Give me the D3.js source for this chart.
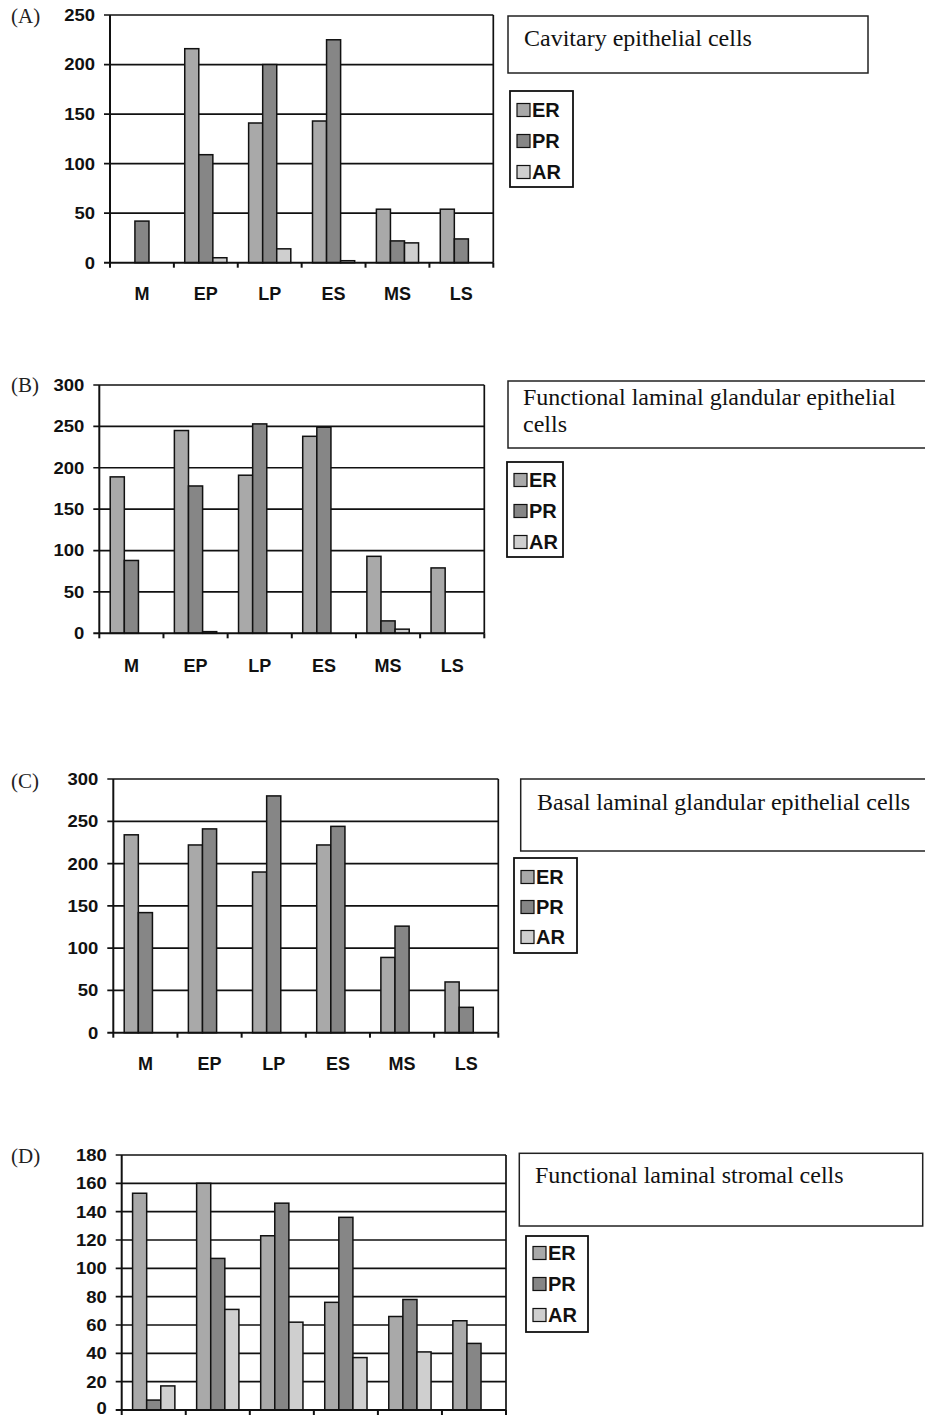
<!DOCTYPE html>
<html><head><meta charset="utf-8">
<script src="https://cdn.jsdelivr.net/npm/d3@7/dist/d3.min.js"></script>
<style>
body{margin:0;background:#fff;}
svg{display:block;}
</style></head>
<body>
<svg id="chart" width="925" height="1415"></svg>
<script>
// ---- data ----
const categories = ["M","EP","LP","ES","MS","LS"];
const seriesNames = ["ER","PR","AR"];
const seriesColors = ["#a9a9a9","#868686","#cfcfcf"];

const titleA = ["Cavitary epithelial cells"];
const ticksA = [0,50,100,150,200,250];
const A_ER = [0,216,141,143,54,54];
const A_PR = [42,109,200,225,22,24];
const A_AR = [0,5,14,2,20,0];

const titleB = ["Functional laminal glandular epithelial","cells"];
const ticksB = [0,50,100,150,200,250,300];
const B_ER = [189,245,191,238,93,79];
const B_PR = [88,178,253,249,15,0];
const B_AR = [0,2,0,0,5,0];

const titleC = ["Basal laminal glandular epithelial cells"];
const ticksC = [0,50,100,150,200,250,300];
const C_ER = [234,222,190,222,89,60];
const C_PR = [142,241,280,244,126,30];
const C_AR = [0,0,0,0,0,0];

const titleD = ["Functional laminal stromal cells"];
const ticksD = [0,20,40,60,80,100,120,140,160,180];
const D_ER = [153,160,123,76,66,63];
const D_PR = [7,107,146,136,78,47];
const D_AR = [17,71,62,37,41,0];

// ---- layout ----
const panels = [
  {letter:"(A)", title:titleA, ticks:ticksA, series:[A_ER,A_PR,A_AR],
   x0:110, x1:493.3, yTop:15, yZero:262.7, catY:300, letterY:23,
   tbox:{x:508,y:16,w:360,h:57,tx:524,ty:[46]},
   lbox:{x:510,y:91,w:63,h:96,iy:[110,141,172]}},
  {letter:"(B)", title:titleB, ticks:ticksB, series:[B_ER,B_PR,B_AR],
   x0:99.3, x1:484.3, yTop:385, yZero:633.3, catY:671.5, letterY:392,
   tbox:{x:508,y:381,w:440,h:67,tx:523,ty:[405,432]},
   lbox:{x:507,y:462,w:56,h:95,iy:[480,511,542]}},
  {letter:"(C)", title:titleC, ticks:ticksC, series:[C_ER,C_PR,C_AR],
   x0:113.3, x1:498.3, yTop:779, yZero:1032.7, catY:1070, letterY:788,
   tbox:{x:520.7,y:779,w:430,h:72,tx:537,ty:[810]},
   lbox:{x:514,y:858,w:63,h:95,iy:[877,907,937]}},
  {letter:"(D)", title:titleD, ticks:ticksD, series:[D_ER,D_PR,D_AR],
   x0:121.7, x1:506, yTop:1155, yZero:1410, catY:null, letterY:1163,
   tbox:{x:519.3,y:1153.3,w:403.4,h:72.7,tx:535,ty:[1183]},
   lbox:{x:526,y:1236,w:62,h:96,iy:[1253,1284,1315]}}
];

const svg = d3.select("#chart");
const pageH = +svg.attr("height");
const sans = "'Liberation Sans', Arial, sans-serif";
const serif = "'Liberation Serif', 'Times New Roman', serif";

panels.forEach(p => {
  const g = svg.append("g");
  const yMax = d3.max(p.ticks);
  const y = d3.scaleLinear().domain([0,yMax]).range([p.yZero,p.yTop]);
  const x = d3.scaleBand().domain(categories).range([p.x0,p.x1]).padding(0);
  const bw = x.bandwidth();
  const xs = d3.scaleBand().domain(seriesNames).range([bw*0.17, bw*0.83]).padding(0);

  // panel letter
  g.append("text").attr("x",11).attr("y",p.letterY)
    .attr("font-family",serif).attr("font-size",21).attr("fill","#222").text(p.letter);

  // gridlines (extend left as tick marks)
  g.append("g").selectAll("line").data(p.ticks.filter(t=>t>0)).join("line")
    .attr("x1",p.x0-6).attr("x2",p.x1)
    .attr("y1",d=>y(d)).attr("y2",d=>y(d))
    .attr("stroke","#111").attr("stroke-width",1.7);

  // bars
  const rows = categories.map((c,i)=>({c, vals:seriesNames.map((s,j)=>({s, v:p.series[j][i], j}))}));
  g.append("g").selectAll("g").data(rows).join("g")
    .attr("transform",d=>`translate(${x(d.c)},0)`)
    .selectAll("rect").data(d=>d.vals.filter(v=>v.v>0)).join("rect")
    .attr("x",d=>xs(d.s)).attr("width",xs.bandwidth())
    .attr("y",d=>y(d.v)).attr("height",d=>y(0)-y(d.v))
    .attr("fill",d=>seriesColors[d.j]).attr("stroke","#111").attr("stroke-width",1.5);

  // right frame
  g.append("line").attr("x1",p.x1).attr("x2",p.x1).attr("y1",y(yMax)).attr("y2",y(0))
    .attr("stroke","#111").attr("stroke-width",1.7);

  // y axis
  g.append("line").attr("x1",p.x0).attr("x2",p.x0).attr("y1",y(yMax)).attr("y2",y(0))
    .attr("stroke","#111").attr("stroke-width",2);
  // x axis with ticks
  g.append("line").attr("x1",p.x0-6).attr("x2",p.x1).attr("y1",y(0)).attr("y2",y(0))
    .attr("stroke","#111").attr("stroke-width",2);
  const bounds = categories.map(c=>x(c)).concat([p.x1]);
  g.append("g").selectAll("line").data(bounds).join("line")
    .attr("x1",d=>d).attr("x2",d=>d).attr("y1",y(0)).attr("y2",y(0)+5)
    .attr("stroke","#111").attr("stroke-width",2);

  // y labels (kept inside the page at the bottom edge)
  g.append("g").selectAll("g").data(p.ticks).join("g")
    .attr("transform",d=>`translate(${p.x0-15},${Math.min(y(d), pageH-7)}) scale(1.12,1)`)
    .append("text").attr("text-anchor","end").attr("dy","0.36em")
    .attr("font-family",sans).attr("font-weight","bold").attr("font-size",16.5).attr("fill","#111")
    .text(d=>d);

  // category labels (panel D's fall below the visible page)
  if (p.catY !== null) {
    g.append("g").selectAll("text").data(categories).join("text")
      .attr("x",d=>x(d)+bw/2).attr("y",p.catY).attr("text-anchor","middle")
      .attr("font-family",sans).attr("font-weight","bold").attr("font-size",18).attr("fill","#111")
      .text(d=>d);
  }

  // title box
  const t = p.tbox;
  g.append("rect").attr("x",t.x).attr("y",t.y).attr("width",t.w).attr("height",t.h)
    .attr("fill","none").attr("stroke","#222").attr("stroke-width",1.5);
  g.append("g").selectAll("text").data(p.title).join("text")
    .attr("x",t.tx).attr("y",(d,i)=>t.ty[i])
    .attr("font-family",serif).attr("font-size",24).attr("fill","#111").text(d=>d);

  // legend box
  const l = p.lbox;
  g.append("rect").attr("x",l.x).attr("y",l.y).attr("width",l.w).attr("height",l.h)
    .attr("fill","none").attr("stroke","#111").attr("stroke-width",1.8);
  const items = g.append("g").selectAll("g").data(seriesNames).join("g")
    .attr("transform",(d,i)=>`translate(${l.x+7},${l.iy[i]})`);
  items.append("rect").attr("x",0).attr("y",-6.5).attr("width",13).attr("height",13)
    .attr("fill",(d,i)=>seriesColors[i]).attr("stroke","#111").attr("stroke-width",1.2);
  items.append("text").attr("x",15).attr("dy","0.36em")
    .attr("font-family",sans).attr("font-weight","bold").attr("font-size",20).attr("fill","#111")
    .text(d=>d);
});
</script>
</body></html>
